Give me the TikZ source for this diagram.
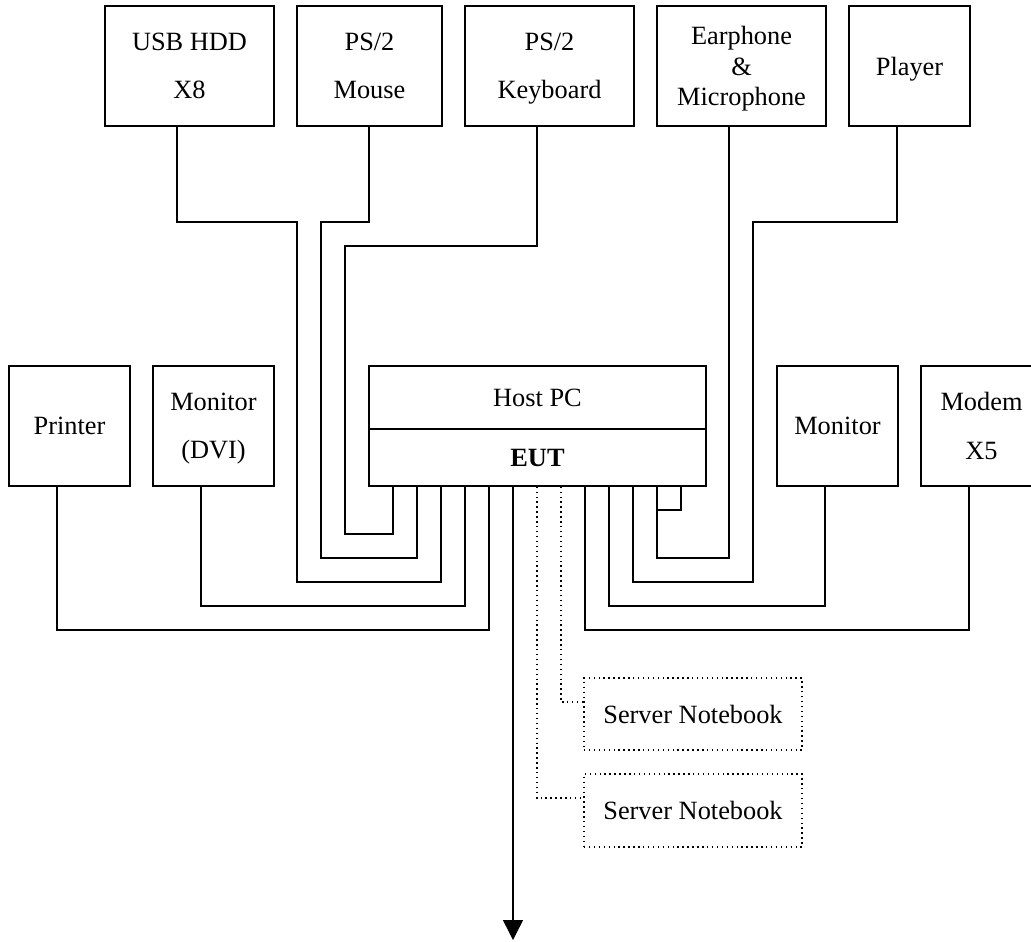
\documentclass[tikz,border=0pt]{standalone}
\usepackage{fontspec}
\setmainfont{Liberation Serif}
\usetikzlibrary{arrows.meta}
\tikzset{
  box/.style={draw, line width=0.8pt, inner sep=0pt, align=center, text depth=0pt, font=\fontsize{15}{27.5}\selectfont},
  tightbox/.style={box, font=\fontsize{15}{17.5}\selectfont},
  dotbox/.style={draw, dotted, line width=0.8pt, inner sep=0pt, align=center, text depth=0pt, font=\fontsize{15}{18}\selectfont},
  wire/.style={line width=0.8pt},
  dotwire/.style={line width=0.8pt, dotted},
}
\begin{document}
\begin{tikzpicture}[x=0.02cm, y=-0.02cm]
\useasboundingbox (0,0) rectangle (1031,941);
\clip (0,0) rectangle (1031,941);
% top row
\node[box, minimum width=3.38cm, minimum height=2.4cm] (usb) at (189.5,66) {USB HDD\\X8};
\node[box, minimum width=2.9cm, minimum height=2.4cm] (mouse) at (369.5,66) {PS/2\\Mouse};
\node[box, minimum width=3.38cm, minimum height=2.4cm] (kbd) at (549.5,66) {PS/2\\Keyboard};
\node[tightbox, minimum width=3.38cm, minimum height=2.4cm] (ear) at (741.5,66) {Earphone\\\&\\Microphone};
\node[box, minimum width=2.42cm, minimum height=2.4cm] (player) at (909.5,66) {Player};
% middle row
\node[box, minimum width=2.42cm, minimum height=2.4cm] (printer) at (69.5,426) {Printer};
\node[box, minimum width=2.42cm, minimum height=2.4cm] (dvi) at (213.5,426) {Monitor\\(DVI)};
\node[box, minimum width=6.74cm, minimum height=1.26cm] (host) at (537.5,397.5) {Host PC};
\node[box, minimum width=6.74cm, minimum height=1.14cm] (eut) at (537.5,457.5) {\textbf{EUT}};
\node[box, minimum width=2.42cm, minimum height=2.4cm] (monitor) at (837.5,426) {Monitor};
\node[box, minimum width=2.42cm, minimum height=2.4cm] (modem) at (981.5,426) {Modem\\X5};
% server notebooks
\node[dotbox, minimum width=4.36cm, minimum height=1.44cm] (sn1) at (693,714) {Server Notebook};
\node[dotbox, minimum width=4.36cm, minimum height=1.46cm] (sn2) at (693,810.5) {Server Notebook};
\coordinate (down) at (513,940);
% left-side wires
\draw[wire] (usb.south -| 177,0) |- (297,222) |- (441,582) -- (eut.south -| 441,0);
\draw[wire] (mouse.south -| 369,0) |- (321,222) |- (417,558) -- (eut.south -| 417,0);
\draw[wire] (kbd.south -| 537,0) |- (345,246) |- (393,534) -- (eut.south -| 393,0);
\draw[wire] (dvi.south -| 201,0) |- (465,606) -- (eut.south -| 465,0);
\draw[wire] (printer.south -| 57,0) |- (489,630) -- (eut.south -| 489,0);
% arrow
\draw[wire, -{Triangle[width=0.4cm,length=0.4cm]}] (eut.south -| 513,0) -- (down);
% dotted wires
\draw[dotwire] (eut.south -| 561,0) |- (sn1.west |- 0,702);
\draw[dotwire] (eut.south -| 537,0) |- (sn2.west |- 0,798);
% right-side wires
\draw[wire] (eut.south -| 585,0) |- (969,630) -- (modem.south -| 969,0);
\draw[wire] (eut.south -| 609,0) |- (825,606) -- (monitor.south -| 825,0);
\draw[wire] (eut.south -| 633,0) |- (753,582) |- (897,222) -- (player.south -| 897,0);
\draw[wire] (eut.south -| 657,0) |- (729,558) -- (ear.south -| 729,0);
\draw[wire] (eut.south -| 681,0) |- (657,510);
\end{tikzpicture}
\end{document}
